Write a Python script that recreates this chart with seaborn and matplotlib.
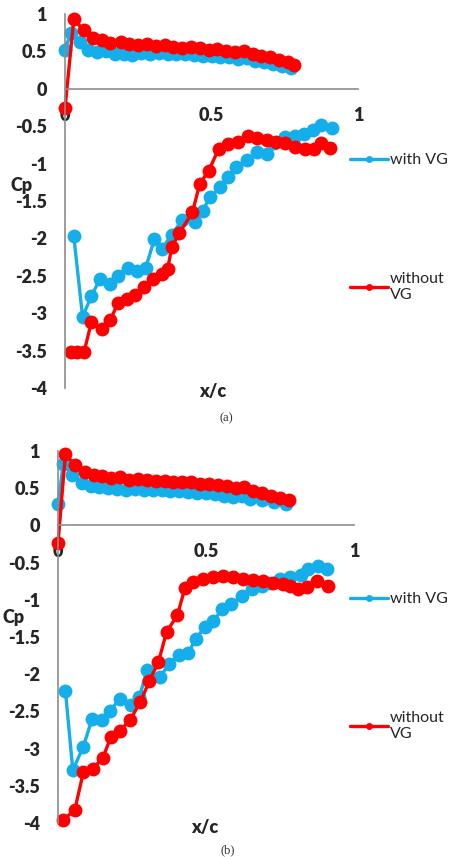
import numpy as np
import pandas as pd
import matplotlib
matplotlib.use("Agg")
import matplotlib.pyplot as plt
import seaborn as sns

# panel (a) - upper surface
a_up_x_vg = [0.0, 0.02, 0.05, 0.08, 0.11, 0.14, 0.17, 0.20, 0.23, 0.26, 0.29, 0.32, 0.35,
             0.38, 0.41, 0.44, 0.47, 0.50, 0.53, 0.56, 0.59, 0.62, 0.65, 0.68, 0.71, 0.74, 0.77]
a_up_y_vg = [0.52, 0.75, 0.62, 0.52, 0.49, 0.50, 0.46, 0.47, 0.45, 0.48, 0.47, 0.48, 0.46,
             0.46, 0.47, 0.45, 0.44, 0.44, 0.43, 0.42, 0.40, 0.41, 0.37, 0.36, 0.33, 0.31, 0.28]
a_up_x_no = [0.0, 0.03, 0.065, 0.095, 0.125, 0.155, 0.19, 0.22, 0.25, 0.28, 0.31, 0.34, 0.37,
             0.40, 0.43, 0.46, 0.49, 0.52, 0.55, 0.58, 0.61, 0.64, 0.67, 0.70, 0.73, 0.76, 0.78]
a_up_y_no = [-0.26, 0.93, 0.78, 0.68, 0.65, 0.61, 0.62, 0.60, 0.58, 0.60, 0.57, 0.58, 0.56,
             0.55, 0.56, 0.54, 0.52, 0.53, 0.50, 0.49, 0.50, 0.46, 0.44, 0.42, 0.39, 0.36, 0.32]

# panel (a) - lower surface
a_lo_x_vg = [0.03, 0.06, 0.09, 0.12, 0.155, 0.18, 0.215, 0.245, 0.275, 0.305, 0.33, 0.365, 0.40,
             0.445, 0.47, 0.495, 0.53, 0.555, 0.585, 0.62, 0.655, 0.69, 0.715, 0.75, 0.785,
             0.815, 0.845, 0.875, 0.91]
a_lo_y_vg = [-1.97, -3.05, -2.77, -2.54, -2.61, -2.50, -2.39, -2.43, -2.40, -2.01, -2.14, -1.95,
             -1.75, -1.78, -1.63, -1.45, -1.31, -1.18, -1.05, -0.95, -0.84, -0.87, -0.73, -0.64,
             -0.63, -0.60, -0.55, -0.49, -0.52]
a_lo_x_no = [0.02, 0.04, 0.065, 0.09, 0.125, 0.155, 0.18, 0.21, 0.24, 0.27, 0.30, 0.33, 0.35,
             0.365, 0.39, 0.435, 0.46, 0.49, 0.525, 0.555, 0.59, 0.625, 0.655, 0.69, 0.72, 0.75,
             0.785, 0.82, 0.85, 0.875, 0.905]
a_lo_y_no = [-3.52, -3.52, -3.52, -3.12, -3.21, -3.09, -2.87, -2.81, -2.75, -2.65, -2.54, -2.48,
             -2.41, -2.11, -1.93, -1.65, -1.27, -1.10, -0.80, -0.74, -0.71, -0.63, -0.66, -0.69,
             -0.71, -0.73, -0.78, -0.81, -0.80, -0.73, -0.79]

# panel (b) - upper surface
b_up_x_vg = [0.0, 0.018, 0.046, 0.08, 0.11, 0.14, 0.17, 0.20, 0.23, 0.26, 0.29, 0.32, 0.35,
             0.38, 0.41, 0.44, 0.47, 0.50, 0.53, 0.56, 0.59, 0.62, 0.65, 0.69, 0.73, 0.77]
b_up_y_vg = [0.29, 0.83, 0.68, 0.57, 0.53, 0.52, 0.50, 0.49, 0.48, 0.49, 0.47, 0.48, 0.47,
             0.46, 0.46, 0.45, 0.43, 0.43, 0.42, 0.40, 0.38, 0.39, 0.35, 0.34, 0.31, 0.29]
b_up_x_no = [0.0, 0.025, 0.057, 0.09, 0.12, 0.15, 0.18, 0.21, 0.24, 0.27, 0.30, 0.33, 0.36,
             0.39, 0.42, 0.45, 0.48, 0.51, 0.54, 0.57, 0.60, 0.63, 0.66, 0.69, 0.72, 0.75, 0.78]
b_up_y_no = [-0.24, 0.96, 0.81, 0.72, 0.68, 0.66, 0.64, 0.65, 0.61, 0.62, 0.61, 0.60, 0.60,
             0.59, 0.58, 0.58, 0.56, 0.55, 0.54, 0.53, 0.50, 0.52, 0.46, 0.44, 0.40, 0.37, 0.34]

# panel (b) - lower surface
b_lo_x_vg = [0.025, 0.05, 0.085, 0.115, 0.15, 0.175, 0.21, 0.245, 0.275, 0.30, 0.345, 0.375,
             0.41, 0.44, 0.465, 0.495, 0.525, 0.555, 0.585, 0.62, 0.655, 0.69, 0.715, 0.75,
             0.785, 0.82, 0.845, 0.88, 0.91]
b_lo_y_vg = [-2.22, -3.29, -2.98, -2.60, -2.62, -2.49, -2.33, -2.42, -2.31, -1.95, -2.04, -1.86,
             -1.74, -1.71, -1.53, -1.37, -1.28, -1.13, -1.06, -0.95, -0.86, -0.81, -0.77, -0.72,
             -0.69, -0.66, -0.59, -0.54, -0.58]
b_lo_x_no = [0.018, 0.057, 0.086, 0.117, 0.151, 0.178, 0.209, 0.243, 0.277, 0.309, 0.339, 0.367,
             0.403, 0.429, 0.457, 0.491, 0.525, 0.559, 0.592, 0.626, 0.66, 0.694, 0.727, 0.761,
             0.785, 0.81, 0.84, 0.874, 0.913]
b_lo_y_no = [-3.96, -3.82, -3.31, -3.27, -3.13, -2.85, -2.76, -2.62, -2.38, -2.09, -1.84, -1.43,
             -1.21, -0.84, -0.76, -0.72, -0.69, -0.68, -0.70, -0.72, -0.73, -0.75, -0.77, -0.79,
             -0.82, -0.86, -0.83, -0.75, -0.82]

x_ticks = [0, 0.5, 1]
x_tick_labels = ["0", "0.5", "1"]
y_ticks = [-4, -3.5, -3, -2.5, -2, -1.5, -1, -0.5, 0, 0.5, 1]
y_tick_labels = ["-4", "-3.5", "-3", "-2.5", "-2", "-1.5", "-1", "-0.5", "0", "0.5", "1"]

BLUE = "#14AEEA"
RED = "#FF0000"
GREY = "#8C8C8C"
W, H = 455, 857


def draw_series(ax, x, y, color, label=None):
    sns.lineplot(x=x, y=y, ax=ax, color=color, sort=False, estimator=None,
                 marker="o", markersize=10, markeredgewidth=0, linewidth=2.4,
                 label=label, clip_on=False)


def style_axes(ax):
    ax.set_xlim(0, 1)
    ax.set_ylim(-4, 1)
    ax.spines["top"].set_visible(False)
    ax.spines["right"].set_visible(False)
    ax.spines["bottom"].set_position(("data", 0))
    for s in ("left", "bottom"):
        ax.spines[s].set_color(GREY)
        ax.spines[s].set_linewidth(1.2)
    ax.set_xticks(x_ticks)
    ax.set_xticklabels(x_tick_labels)
    ax.set_yticks(y_ticks)
    ax.set_yticklabels(y_tick_labels)
    ax.tick_params(axis="both", direction="in", length=5, width=1.2, color=GREY,
                   labelsize=13, pad=13)
    for t in ax.get_xticklabels() + ax.get_yticklabels():
        t.set_fontweight("heavy")
    ax.set_xlabel("")
    ax.set_ylabel("")
    ax.grid(False)


def add_legend(ax, fig, top_px):
    handles, labels = ax.get_legend_handles_labels()
    ax.legend(handles, ["with VG", "without\nVG"], loc="upper left",
              bbox_to_anchor=(350 / W, 1 - top_px / H), bbox_transform=fig.transFigure,
              frameon=False, fontsize=11.5, labelspacing=6.55, handlelength=2.35,
              handletextpad=0.15, borderpad=0, borderaxespad=0, markerscale=0.5)


sns.set_style("white")
plt.rcParams["font.family"] = ["Lato", "DejaVu Sans"]

fig = plt.figure(figsize=(W / 100, H / 100), dpi=100)
ax_a = fig.add_axes([65 / W, 1 - 388 / H, 293 / W, 374 / H])
ax_b = fig.add_axes([58 / W, 1 - 823 / H, 296 / W, 372 / H])

panels = [
    (ax_a, a_up_x_vg, a_up_y_vg, a_lo_x_vg, a_lo_y_vg, a_up_x_no, a_up_y_no, a_lo_x_no, a_lo_y_no),
    (ax_b, b_up_x_vg, b_up_y_vg, b_lo_x_vg, b_lo_y_vg, b_up_x_no, b_up_y_no, b_lo_x_no, b_lo_y_no),
]
for ax, uxv, uyv, lxv, lyv, uxn, uyn, lxn, lyn in panels:
    draw_series(ax, uxv, uyv, BLUE, "with VG")
    draw_series(ax, lxv, lyv, BLUE)
    draw_series(ax, uxn, uyn, RED, "without VG")
    draw_series(ax, lxn, lyn, RED)
    style_axes(ax)

add_legend(ax_a, fig, 153)
add_legend(ax_b, fig, 592)

# axis titles and panel captions
for xp, yp in [(22, 185), (14, 618)]:
    fig.text(xp / W, 1 - yp / H, "Cp", ha="center", va="center", fontsize=13,
             fontweight="heavy")
for xp, yp in [(213, 392), (205, 827)]:
    fig.text(xp / W, 1 - yp / H, "x/c", ha="center", va="center", fontsize=13,
             fontweight="heavy")
for xp, yp, txt in [(226, 418, "(a)"), (228, 850, "(b)")]:
    fig.text(xp / W, 1 - yp / H, txt, ha="center", va="center", fontsize=9,
             family="Liberation Serif", color="#333333")

fig.savefig("out.png", dpi=100)
